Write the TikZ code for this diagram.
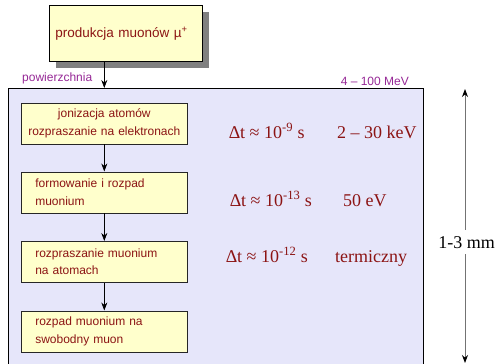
\documentclass[tikz,border=0pt]{standalone}
\usepackage{fontspec}
\setmainfont{Liberation Serif}
\setsansfont{Liberation Sans}
\usetikzlibrary{arrows.meta,shadows}
\definecolor{txtred}{RGB}{140,20,20}
\definecolor{lbl}{RGB}{150,40,150}
\definecolor{yel}{RGB}{255,255,204}
\definecolor{lav}{RGB}{230,230,250}
\begin{document}
\begin{tikzpicture}[x=1pt,y=-1pt,
  stepbox/.style={draw=black!85, line width=0.6pt, fill=yel, minimum width=166, minimum height=41,
    inner sep=0pt, text width=138pt, align=left, anchor=north west,
    font=\sffamily\fontsize{12}{17.5}\selectfont, text=txtred},
  flow/.style={-{Stealth[length=8pt,width=6pt]}, line width=0.7pt},
  serlab/.style={inner sep=0pt, anchor=base west, font=\fontsize{18}{20}\selectfont, text=txtred},
  purp/.style={inner sep=0pt, font=\sffamily\fontsize{12}{14}\selectfont, text=lbl}]
\useasboundingbox (0,0) rectangle (498,364);
% big box
\node[draw=black, line width=0.7pt, fill=lav, minimum width=415, minimum height=290, inner sep=0pt, anchor=north west] (surf) at (8,88) {};
% top box
\node[draw=black, line width=0.7pt, fill=yel, minimum width=153, minimum height=56, inner sep=0pt,
  text width=141pt, align=left, anchor=north west,
  drop shadow={shadow xshift=7pt, shadow yshift=-7pt, fill=black!50, opacity=1},
  font=\sffamily\fontsize{13.5}{16}\selectfont, text=txtred] (prod) at (49,5) {produkcja muonów µ\textsuperscript{+}};
% steps
\node[stepbox, text width=160pt, align=center] (b1) at (21,102.5) {jonizacja atomów\\rozpraszanie na elektronach};
\node[stepbox] (b2) at (21,171.5) {formowanie i rozpad\\muonium};
\node[stepbox] (b3) at (21,241) {rozpraszanie muonium\\na atomach};
\node[stepbox] (b4) at (21,310.5) {rozpad muonium na\\swobodny muon};
% connectors
\draw[flow] (b1.north |- prod.south) -- (b1.north |- surf.north);
\draw[flow] (b1) -- (b2);
\draw[flow] (b2) -- (b3);
\draw[flow] (b3) -- (b4);
% purple labels
\node[purp, anchor=base west] (pow) at (22,81.5) {powierzchnia};
\node[purp, anchor=base east] (mev) at (409,85.5) {4 – 100 MeV};
% serif labels
\node[serlab] (t1) at (229,138) {∆t ≈ 10\textsuperscript{-9} s};
\node[serlab] (e1) at (337,138) {2 – 30 keV};
\node[serlab] (t2) at (230,206) {∆t ≈ 10\textsuperscript{-13} s};
\node[serlab] (e2) at (343,206) {50 eV};
\node[serlab] (t3) at (226,262) {∆t ≈ 10\textsuperscript{-12} s};
\node[serlab] (e3) at (335,262) {termiczny};
% depth arrow
\coordinate (mt) at (465,89);
\coordinate (mb) at (465,363);
\node[inner xsep=0pt, inner ysep=6pt, anchor=base, font=\fontsize{18}{20}\selectfont] (mm) at (466.5,248) {1-3 mm};
\draw[draw=black!55, line width=0.8pt, -{Stealth[black,length=8pt,width=6pt]}] (mt |- mm.north) -- (mt);
\draw[draw=black!55, line width=0.8pt, -{Stealth[black,length=8pt,width=6pt]}] (mb |- mm.south) -- (mb);
\end{tikzpicture}
\end{document}
